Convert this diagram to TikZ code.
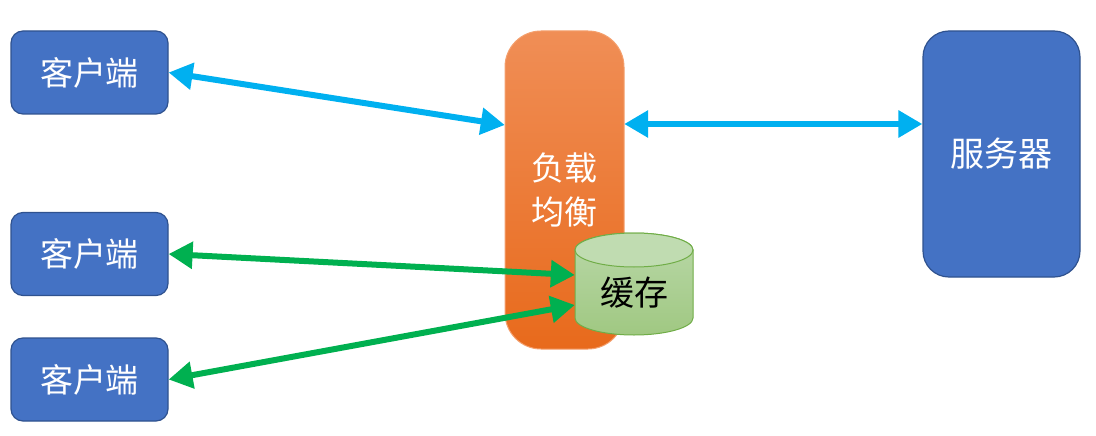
\documentclass[tikz,border=0pt]{standalone}
\usepackage{fontspec}
\newfontfamily\cjk{Noto Sans CJK SC}
\usetikzlibrary{arrows.meta}
\definecolor{boxblue}{RGB}{68,114,196}
\definecolor{boxborder}{RGB}{47,82,143}
\definecolor{arrblue}{RGB}{0,176,240}
\definecolor{arrgreen}{RGB}{0,176,80}
\definecolor{orangetop}{RGB}{240,142,86}
\definecolor{orangebot}{RGB}{232,106,28}
\definecolor{orangeborder}{RGB}{244,160,110}
\definecolor{greentop}{RGB}{185,216,168}
\definecolor{greenbot}{RGB}{160,200,130}
\definecolor{greenborder}{RGB}{112,173,71}
\tikzset{
  client/.style={draw=boxborder, line width=1.2pt, fill=boxblue, rounded corners=12pt,
    minimum width=157pt, minimum height=83pt, inner sep=0pt, text=white,
    font=\cjk\fontsize{33}{40}\selectfont},
  link/.style={line width=6pt, {Triangle[length=24pt,width=26pt]}-{Triangle[length=24pt,width=26pt]}},
}
\begin{document}
\begin{tikzpicture}[x=1pt,y=-1pt]
\useasboundingbox (0,0) rectangle (1096,436);
% clients
\node[client] (c1) at (89.5,72.5) {客户端};
\node[client] (c2) at (89.5,254) {客户端};
\node[client] (c3) at (89.5,379.5) {客户端};
% server
\node[client, rounded corners=26pt, minimum width=157pt, minimum height=246pt,
  font=\cjk\fontsize{34}{40}\selectfont] (srv) at (1001.5,154) {服务器};
% load balancer
\shade[top color=orangetop, bottom color=orangebot, draw=orangeborder, line width=1pt,
  rounded corners=36pt] (505,31) rectangle (624,349);
\node[inner sep=0pt, minimum width=119pt, minimum height=318pt] (lb) at (564.5,190) {};
\node[text=white, font=\cjk\fontsize{33}{44}\selectfont, align=center] (lbt) at (564.5,190) {负载\\均衡};
% cache cylinder
\shade[top color=greentop, bottom color=greenbot, draw=greenborder, line width=1pt]
  (575,250) -- (575,318) arc[start angle=180, end angle=0, x radius=59, y radius=17]
  -- (693,250) arc[start angle=0, end angle=-180, x radius=59, y radius=17] -- cycle;
\fill[greentop!90!white, draw=greenborder, line width=1pt] (634,250) ellipse[x radius=59, y radius=17];
\node[inner sep=0pt, minimum width=118pt, minimum height=103pt] (cache) at (634,284.5) {};
\node[font=\cjk\fontsize{34}{40}\selectfont, text=black] (ct) at (634,293) {缓存};
% connector end points on the node borders
\coordinate (lbL) at (lb.west |- 0,125);
\coordinate (lbR) at (lb.east |- 0,124);
\coordinate (srvL) at (srv.west |- 0,124);
\coordinate (cacheA) at (cache.west |- 0,275);
\coordinate (cacheB) at (cache.west |- 0,305);
% connectors
\draw[link, arrblue] (c1.east) -- (lbL);
\draw[link, arrblue] (lbR) -- (srvL);
\draw[link, arrgreen] (c2.east) -- (cacheA);
\draw[link, arrgreen] (c3.east) -- (cacheB);
\end{tikzpicture}
\end{document}
